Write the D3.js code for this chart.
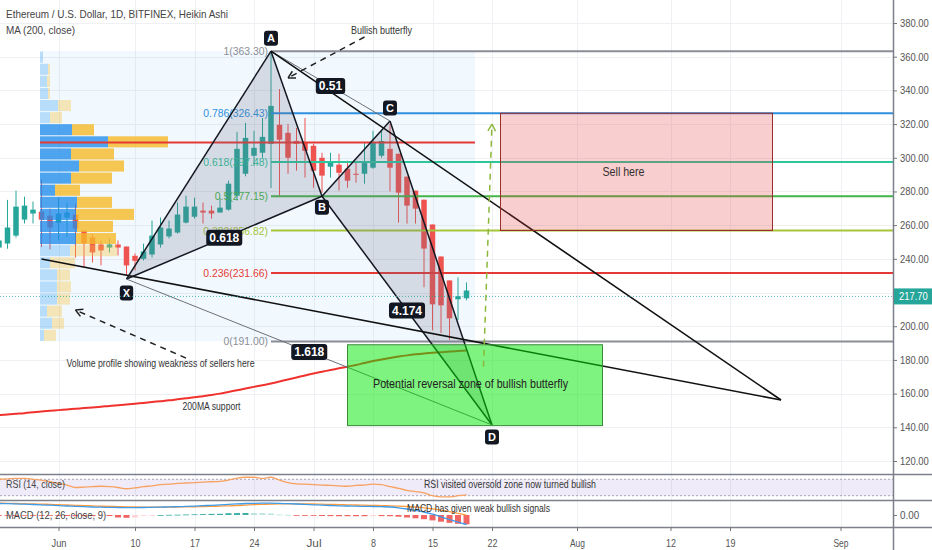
<!DOCTYPE html>
<html><head><meta charset="utf-8">
<script src="https://cdn.jsdelivr.net/npm/d3@7/dist/d3.min.js"></script>
<style>
html,body{margin:0;padding:0;background:#fff;overflow:hidden;}
svg{display:block;}
text{font-family:'Liberation Sans',Arial,sans-serif;}
</style></head><body>
<svg id="c" width="932" height="550"></svg>
<script>
// ---------------- DATA ----------------
const title = "Ethereum / U.S. Dollar, 1D, BITFINEX, Heikin Ashi";
const maTitle = "MA (200, close)";
const firstDay = "2019-05-25", lastDay = "2019-07-19";
// Heikin Ashi candles, May 25 .. Jul 19 2019
const haOpen  = [246.7,249.1,253.8,263.3,266.9,268.0,265.6,261.4,264.5,266.3,256.8,252.7,248.5,246.7,248.5,247.3,241.8,240.0,242.6,248.5,253.3,255.6,261.5,265.0,268.6,268.6,267.5,269.2,277.5,290.5,301.2,303.0,308.3,319.6,314.8,310.0,308.9,307.1,300.0,294.7,295.9,293.5,290.5,290.5,294.1,301.2,305.3,302.4,288.8,280.5,275.1,260.4,241.4,227.2,216.0,216.6];
const haHigh  = [255.0,275.0,280.5,276.9,274.0,287.0,269.8,276.3,273.4,272.8,256.8,255.0,250.9,252.1,250.9,247.3,243.2,249.0,262.7,264.5,262.7,273.4,277.5,276.3,273.4,271.6,276.3,286.4,315.4,320.7,316.0,323.6,363.3,340.8,320.1,317.7,323.6,308.3,303.0,303.0,302.4,298.2,298.2,308.9,316.0,316.0,320.0,302.4,288.8,280.5,275.1,260.4,241.4,227.2,229.0,226.0];
const haLow   = [243.8,246.0,252.6,261.0,261.0,247.0,245.6,250.9,252.7,240.8,234.9,237.9,236.1,243.8,242.0,230.2,233.1,239.0,240.8,246.7,252.1,255.0,261.0,263.9,261.0,263.9,267.5,268.6,274.6,289.0,295.0,300.0,282.0,277.5,290.5,292.3,288.2,282.2,279.3,288.2,280.5,282.2,285.2,284.6,293.5,300.0,280.0,261.5,260.9,260.9,223.1,197.6,195.9,192.0,203.6,215.4];
const haClose = [250.9,258.6,271.0,271.6,269.2,263.3,258.6,266.9,267.5,258.0,249.1,243.8,245.0,248.5,246.7,236.1,238.8,244.4,253.8,258.6,258.0,266.3,271.0,271.0,267.5,266.9,270.4,284.6,305.3,311.8,305.9,312.4,330.8,310.7,300.0,308.3,304.1,292.3,289.4,297.0,291.1,286.4,289.9,297.0,308.9,310.0,294.1,279.3,271.6,269.8,246.1,213.0,212.4,204.7,217.8,221.2];
const ma200   = [147.3,147.6,148.0,148.4,148.9,149.4,149.8,150.2,150.6,151.0,151.4,151.8,152.2,152.7,153.1,153.5,154.0,154.5,155.0,155.5,156.0,156.6,157.2,157.8,158.5,159.2,160.0,161.0,162.0,163.0,164.0,165.0,166.0,167.2,168.4,169.6,170.8,172.0,173.0,174.0,175.0,176.0,177.0,178.2,179.3,180.3,181.2,182.0,182.7,183.3,183.8,184.2,184.6,185.0,185.3,185.6];
const rsi     = [70,71,72,72,70,68,64,60,56,50,51,52,53,52,50,47,49,52,54,57,58,60,61,62,63,64,65,68,73,75,75,72,75,68,62,59,58,57,56,55,54,53,55,56,58,57,52,48,43,40,37,30,27,27,30,32];
const macdLine = [11.5,11.3,11.1,10.8,10.5,10.2,9.8,9.4,9.0,8.6,8.3,8.0,7.8,7.6,7.5,7.4,7.4,7.5,7.7,7.9,8.1,8.3,8.6,8.9,9.3,9.7,10.1,10.6,11.1,11.5,11.7,11.8,11.8,11.6,11.3,11.0,10.6,10.2,9.8,9.5,9.2,9.0,8.8,8.6,8.5,8.3,8.0,7.2,6.0,4.6,3.0,0.8,-1.8,-4.5,-7.2,-9.5];
const signalLine = [11.8,11.7,11.5,11.3,11.1,10.9,10.6,10.3,10.0,9.7,9.4,9.1,8.8,8.6,8.4,8.2,8.0,7.9,7.9,7.9,7.9,8.0,8.1,8.2,8.4,8.6,8.9,9.2,9.5,9.9,10.3,10.6,10.9,11.1,11.2,11.2,11.1,11.0,10.8,10.6,10.4,10.2,10.0,9.8,9.6,9.4,9.2,8.9,8.5,7.9,7.2,6.2,4.9,3.3,1.6,-0.2];
const macdHist = [-0.3,-0.4,-0.4,-0.5,-0.6,-0.7,-0.8,-0.9,-1.0,-1.1,-1.1,-1.1,-1.0,-1.0,-2.5,-2.8,-2.5,-0.4,-0.2,0,0.2,0.3,0.5,0.7,0.9,1.1,1.2,1.8,1.9,2.0,1.9,1.8,1.5,0.5,0.1,-0.2,-0.5,-0.8,-1.0,-1.1,-1.2,-1.2,-1.2,-1.2,-1.1,-1.1,-1.2,-1.7,-2.5,-3.3,-4.2,-5.4,-6.7,-7.8,-8.8,-9.3];
const lastPrice = 217.70;

// Volume profile (top row -> bottom row), range 191.00 .. 363.30
const vpRange = [191.00, 363.30];
const vpUp   = [3,8,7,8,18,10,32,68,31,39,31,15,37,36,37,36,30,10,17,17,17,7,12,4];
const vpDown = [0,2,3,2,13,12,22,60,43,45,41,25,35,58,36,40,47,25,13,14,13,15,12,12];
const vpValueArea = [0,0,0,0,0,0,1,1,1,1,1,1,1,1,1,1,0,0,0,0,0,0,0,0];
const vpStart = "2019-05-30", vpEnd = "2019-07-20";
const pocPrice = 309.0;

// Fibonacci retracement
const fibLevels = [0, 0.236, 0.382, 0.5, 0.618, 0.786, 1];
const fibPrices = [191.00, 231.66, 256.82, 277.15, 297.48, 326.43, 363.30];
const fibColors = ["#8a8d96","#e53935","#a5c63b","#43b548","#2ec49c","#2f8fdc","#8a8d96"];
const fibStart = "2019-06-26";

// XABCD pattern
const patLabels = ["X","A","B","C","D"];
const patDates  = ["2019-06-09","2019-06-26","2019-07-02","2019-07-10","2019-07-22"];
const patPrices = [228.0, 363.3, 277.15, 321.8, 141.4];
const ratioLabels = ["0.618","0.51","4.174","1.618"]; // XB, AC, BD, XD

// Trend lines
const trend1 = [["2019-05-30", 239.9], ["2019-08-25", 156.2]];
const trend2 = [["2019-06-26", 363.3], ["2019-08-25", 156.2]];

// Zones
const sellZone = {from:"2019-07-23", to:"2019-08-24", lo:256.82, hi:326.43, text:"Sell here", td:"2019-08-04", tp:291.6};
const prz = {from:"2019-07-05", to:"2019-08-04", lo:141.0, hi:189.0, text:"Potential reversal zone of bullish butterfly", td:"2019-07-08", tp:165.7};

// Annotations
const arrowButterfly = [["2019-07-07", 371.7], ["2019-06-28", 347.4]];
const arrowVP = [["2019-06-16", 181.1], ["2019-06-03", 209.6]];
const arrowTarget = [["2019-07-21", 176.0], ["2019-07-22", 320.0]];
const notes = [
  {d:"2019-07-09", p:375.8, t:"Bullish butterfly"},
  {d:"2019-06-13", p:178.0, t:"Volume profile showing weakness of sellers here"},
  {d:"2019-06-19", p:152.6, t:"200MA support"}
];
const rsiTitle = "RSI (14, close)", rsiNote = "RSI visited oversold zone now turned bullish";
const macdTitle = "MACD (12, 26, close, 9)", macdNote = "MACD has given weak bullish signals";

// Axes ticks
const priceTicks = [120,140,160,180,200,240,260,280,300,320,340,360,380];
const timeTickDates = ["2019-06-01","2019-06-10","2019-06-17","2019-06-24","2019-07-01","2019-07-08","2019-07-15","2019-07-22","2019-08-01","2019-08-12","2019-08-19","2019-09-01"];
const timeTickLabels = ["Jun","10","17","24","Jul","8","15","22","Aug","12","19","Sep"];

// ---------------- CHART ----------------
const pd = d3.utcParse("%Y-%m-%d");
const svg = d3.select("#c");
const W = 932, H = 550, PR = 893;
const PANE_P = [0, 474], PANE_R = [475, 500], PANE_M = [501, 527];

const x = d3.scaleUtc().domain([pd("2019-06-01"), pd("2019-09-01")]).range([58.5, 840.5]);
const y = d3.scaleLinear().domain([120, 380]).range([461, 23]);
const ry = d3.scaleLinear().domain([22, 78]).range([499, 476]);
const my = d3.scaleLinear().domain([-12, 14]).range([527, 501]);
const dates = d3.utcDay.range(pd(firstDay), d3.utcDay.offset(pd(lastDay), 1));

// horizontal squeeze to mimic the narrow chart font
let K = 1;
function squeeze(sel, target, perChar) {
  sel.each(function(){
    const n = this.getComputedTextLength();
    let t = target != null ? target : n * K;
    if (perChar) t = this.textContent.length * perChar;
    d3.select(this).attr("textLength", t).attr("lengthAdjust", "spacingAndGlyphs");
  });
  return sel;
}

svg.append("rect").attr("width", W).attr("height", H).attr("fill", "#fff");
const defs = svg.append("defs");
defs.append("clipPath").attr("id","cp").append("rect").attr("x",0).attr("y",0).attr("width",PR).attr("height",PANE_P[1]);
defs.append("clipPath").attr("id","cr").append("rect").attr("x",0).attr("y",PANE_R[0]).attr("width",PR).attr("height",PANE_R[1]-PANE_R[0]);
defs.append("clipPath").attr("id","cm").append("rect").attr("x",0).attr("y",PANE_M[0]).attr("width",PR).attr("height",PANE_M[1]-PANE_M[0]);

// header first, to calibrate squeeze factor
const hdr = svg.append("text").attr("x",6).attr("y",18).attr("font-size",11).attr("fill","#444").text(title);
K = 222 / hdr.node().getComputedTextLength();

// grid
const grid = svg.append("g");
timeTickDates.forEach(d => grid.append("line").attr("x1", Math.round(x(pd(d)))+0.5).attr("x2", Math.round(x(pd(d)))+0.5)
  .attr("y1", 0).attr("y2", PANE_M[1]).attr("stroke", "#eef0f4").attr("stroke-width", 1));
y.ticks(14).forEach(v => grid.append("line").attr("x1", 0).attr("x2", PR).attr("y1", Math.round(y(v))+0.5).attr("y2", Math.round(y(v))+0.5)
  .attr("stroke", "#eef0f4"));

const P = svg.append("g").attr("clip-path", "url(#cp)");

// volume profile background
const vpx0 = x(pd(vpStart)) - 1.5, vpx1 = x(pd(vpEnd));
P.append("rect").attr("x", vpx0).attr("y", y(vpRange[1])).attr("width", vpx1 - vpx0).attr("height", y(vpRange[0]) - y(vpRange[1]))
  .attr("fill", "rgba(33,150,243,0.06)");

// MA 200
P.append("path").datum(ma200).attr("fill","none").attr("stroke","#f0322e").attr("stroke-width",2)
  .attr("d", d3.line().x((d,i)=>x(dates[i])).y(d=>y(d)).curve(d3.curveMonotoneX));

// candles
const cw = 5.5;
dates.forEach((d,i) => {
  const up = haClose[i] >= haOpen[i];
  const col = up ? "#26a69a" : "#ef5350";
  const cx = x(d);
  P.append("line").attr("x1",cx).attr("x2",cx).attr("y1",y(haHigh[i])).attr("y2",y(haLow[i])).attr("stroke",col).attr("stroke-width",1);
  const top = y(Math.max(haOpen[i],haClose[i])), bot = y(Math.min(haOpen[i],haClose[i]));
  P.append("rect").attr("x",cx-cw/2).attr("y",top).attr("width",cw).attr("height",Math.max(1,bot-top)).attr("fill",col);
});

// volume profile bars
const nRows = vpUp.length;
const rowH = (vpRange[1]-vpRange[0]) / nRows;
const vw = d3.scaleLinear().domain([0, 130]).range([0, 130]);
vpUp.forEach((u,i) => {
  const pHi = vpRange[1] - i*rowH, pLo = pHi - rowH;
  const y0 = y(pHi)+0.5, h = y(pLo) - y(pHi) - 1;
  const va = vpValueArea[i];
  P.append("rect").attr("x", vpx0).attr("y", y0).attr("width", vw(u)).attr("height", h)
    .attr("fill", va ? "rgba(33,140,235,0.78)" : "rgba(33,150,243,0.28)");
  P.append("rect").attr("x", vpx0 + vw(u)).attr("y", y0).attr("width", vw(vpDown[i])).attr("height", h)
    .attr("fill", va ? "rgba(246,185,40,0.8)" : "rgba(246,195,60,0.36)");
});
// POC
P.append("line").attr("x1", vpx0).attr("x2", vpx1).attr("y1", y(pocPrice)).attr("y2", y(pocPrice)).attr("stroke","#e53935").attr("stroke-width",2);

// fib levels
const fx = x(pd(fibStart));
fibPrices.forEach((p,i) => {
  P.append("line").attr("x1", fx).attr("x2", PR).attr("y1", y(p)).attr("y2", y(p)).attr("stroke", fibColors[i]).attr("stroke-width", 2);
  squeeze(P.append("text").attr("x", fx-3).attr("y", y(p)+4).attr("text-anchor","end").attr("font-size", 11.5)
    .attr("fill", fibColors[i]).text(`${fibLevels[i]}(${p.toFixed(2)})`));
});

// pattern
const pts = patDates.map((d,i) => [x(pd(d)), y(patPrices[i])]);
const [X,A,B,C,D] = pts;
P.append("path").attr("d", d3.line()([X,A,B])+"Z").attr("fill","rgba(110,115,135,0.22)");
P.append("path").attr("d", d3.line()([B,C,D])+"Z").attr("fill","rgba(110,115,135,0.22)");
const blk = (a,b,w=1.5,c="#131722") => P.append("line").attr("x1",a[0]).attr("y1",a[1]).attr("x2",b[0]).attr("y2",b[1]).attr("stroke",c).attr("stroke-width",w);
blk(X,A); blk(A,B); blk(X,B); blk(B,C); blk(C,D); blk(B,D);
blk(A,C,1,"#6b6f7a"); blk(X,D,1,"#6b6f7a");

// trend lines
[trend1, trend2].forEach(t => {
  const a = [x(pd(t[0][0])), y(t[0][1])], b = [x(pd(t[1][0])), y(t[1][1])];
  blk(a,b,1.6,"#111");
});

// zones
const zone = (z, fill, stroke) => {
  const x0 = x(pd(z.from)), x1 = x(pd(z.to)), y0 = y(z.hi), y1 = y(z.lo);
  P.append("rect").attr("x",x0).attr("y",y0).attr("width",x1-x0).attr("height",y1-y0).attr("fill",fill).attr("stroke",stroke).attr("stroke-width",1);
};
zone(sellZone, "rgba(232,60,60,0.25)", "#9b2c2c");
squeeze(P.append("text").attr("x",x(pd(sellZone.td))).attr("y",y(sellZone.tp)+4).attr("font-size",12).attr("fill","#333").text(sellZone.text), 42);
zone(prz, "rgba(0,232,0,0.5)", "#3a8a3a");
squeeze(P.append("text").attr("x",x(pd(prz.td))).attr("y",y(prz.tp)+4).attr("font-size",12.5).attr("fill","#222").text(prz.text), 195);

// arrows
const arrow = (seg, color, w) => {
  const a = [x(pd(seg[0][0])), y(seg[0][1])], b = [x(pd(seg[1][0])), y(seg[1][1])];
  P.append("line").attr("x1",a[0]).attr("y1",a[1]).attr("x2",b[0]).attr("y2",b[1]).attr("stroke",color).attr("stroke-width",w).attr("stroke-dasharray","6,5");
  const ang = Math.atan2(a[1]-b[1], a[0]-b[0]), L = 8;
  [-0.5, 0.5].forEach(da => P.append("line").attr("x1",b[0]).attr("y1",b[1])
    .attr("x2", b[0]+L*Math.cos(ang+da)).attr("y2", b[1]+L*Math.sin(ang+da)).attr("stroke",color).attr("stroke-width",w));
};
arrow(arrowButterfly, "#222", 1.5);
arrow(arrowVP, "#222", 1.5);
arrow(arrowTarget, "#8bb83a", 1.5);

const noteW = [61, 188, 58];
notes.forEach((n,i) => squeeze(P.append("text").attr("x", x(pd(n.d))).attr("y", y(n.p)+4).attr("text-anchor","middle").attr("font-size",11).attr("fill","#333").text(n.t), noteW[i]));

// point labels
const tag = (cx, cy, t, fs, padX, h) => {
  const g = P.append("g");
  const tx = g.append("text").attr("x",cx).attr("y",cy+fs*0.36).attr("text-anchor","middle").attr("font-size",fs).attr("fill","#fff").attr("font-weight","bold").text(t);
  const w = tx.node().getComputedTextLength() + padX*2;
  g.insert("rect","text").attr("x",cx-w/2).attr("y",cy-h/2).attr("width",w).attr("height",h).attr("rx",3).attr("fill","#131722");
};
const offs = [14,-13,11,-13,12];
pts.forEach((p,i) => tag(p[0], p[1]+offs[i], patLabels[i], 11, 3, 15));
const mid = (a,b) => [(a[0]+b[0])/2, (a[1]+b[1])/2];
[[X,B],[A,C],[B,D],[X,D]].forEach((s,i) => { const m = mid(s[0],s[1]); tag(m[0], m[1], ratioLabels[i], 12, 3, 16); });

// current price line
P.append("line").attr("x1",0).attr("x2",PR).attr("y1",y(lastPrice)).attr("y2",y(lastPrice)).attr("stroke","#26a69a").attr("stroke-width",1).attr("stroke-dasharray","1,2").attr("opacity",0.8);

// header (second line)
squeeze(svg.append("text").attr("x",6).attr("y",34).attr("font-size",11).attr("fill","#444").text(maTitle));
hdr.attr("textLength", 222).attr("lengthAdjust","spacingAndGlyphs");
hdr.raise();

// ---------- RSI pane ----------
const R = svg.append("g").attr("clip-path","url(#cr)");
R.append("rect").attr("x",0).attr("y",ry(70)).attr("width",PR).attr("height",ry(30)-ry(70)).attr("fill","rgba(126,87,194,0.12)");
[70,30].forEach(v => R.append("line").attr("x1",0).attr("x2",PR).attr("y1",ry(v)).attr("y2",ry(v)).attr("stroke","#a9a4b5").attr("stroke-dasharray","2,2"));
R.append("path").datum(rsi).attr("fill","none").attr("stroke","#f7a261").attr("stroke-width",1.3)
  .attr("d", d3.line().x((d,i)=>x(dates[i])).y(d=>ry(d)).curve(d3.curveMonotoneX));
squeeze(svg.append("text").attr("x",6).attr("y",488).attr("font-size",11).attr("fill","#444").text(rsiTitle), 59);
squeeze(svg.append("text").attr("x",424).attr("y",488).attr("font-size",11).attr("fill","#333").text(rsiNote), 172);

// ---------- MACD pane ----------
const M = svg.append("g").attr("clip-path","url(#cm)");
macdHist.forEach((v,i) => {
  const prev = i>0 ? macdHist[i-1] : v;
  let col;
  if (v >= 0) col = v >= prev ? "#26a69a" : "#b2dfdb"; else col = v <= prev ? "#ef5350" : "#ffcdd2";
  const y0 = my(Math.max(0,v)), y1 = my(Math.min(0,v));
  M.append("rect").attr("x", x(dates[i])-3).attr("y", y0).attr("width", 6).attr("height", Math.max(0.8,y1-y0)).attr("fill", col).attr("opacity",0.9);
});
M.append("path").datum(signalLine).attr("fill","none").attr("stroke","#ff9a3c").attr("stroke-width",1.3)
  .attr("d", d3.line().x((d,i)=>x(dates[i])).y(d=>my(d)).curve(d3.curveMonotoneX));
M.append("path").datum(macdLine).attr("fill","none").attr("stroke","#3d9be9").attr("stroke-width",1.3)
  .attr("d", d3.line().x((d,i)=>x(dates[i])).y(d=>my(d)).curve(d3.curveMonotoneX));
squeeze(svg.append("text").attr("x",6).attr("y",519).attr("font-size",11).attr("fill","#444").text(macdTitle), 100);
squeeze(svg.append("text").attr("x",407).attr("y",512).attr("font-size",11).attr("fill","#333").text(macdNote), 143);

// ---------- separators & axes ----------
[PANE_P[1]+0.5, PANE_R[1]+0.5].forEach(v => svg.append("line").attr("x1",0).attr("x2",W).attr("y1",v).attr("y2",v).attr("stroke","#7d808a").attr("stroke-width",1.5));
svg.append("line").attr("x1",0).attr("x2",W).attr("y1",PANE_M[1]+0.5).attr("y2",PANE_M[1]+0.5).attr("stroke","#7d808a").attr("stroke-width",1.5);
svg.append("line").attr("x1",PR+0.5).attr("x2",PR+0.5).attr("y1",0).attr("y2",H).attr("stroke","#7d808a").attr("stroke-width",1.5);

const ya = svg.append("g").attr("transform",`translate(${PR},0)`)
  .call(d3.axisRight(y).tickValues(priceTicks).tickFormat(d3.format(".2f")).tickSize(4).tickPadding(3));
ya.select(".domain").remove();
ya.selectAll("line").attr("stroke","#777");
squeeze(ya.selectAll("text").attr("font-size",10.5).attr("fill","#555"), null, 4.8);

const ma = svg.append("g").attr("transform",`translate(${PR},0)`)
  .call(d3.axisRight(my).tickValues([0]).tickFormat(d3.format(".2f")).tickSize(4).tickPadding(3));
ma.select(".domain").remove();
ma.selectAll("line").attr("stroke","#777");
squeeze(ma.selectAll("text").attr("font-size",10.5).attr("fill","#555"), null, 4.8);

// last price tag
const ly = y(lastPrice);
svg.append("rect").attr("x",PR+1).attr("y",ly-8).attr("width",W-PR-1).attr("height",16).attr("fill","#26a69a");
squeeze(svg.append("text").attr("x",PR+6).attr("y",ly+4).attr("font-size",10.5).attr("fill","#fff").text(lastPrice.toFixed(2)), null, 4.8);

const xa = svg.append("g").attr("transform",`translate(0,${PANE_M[1]})`)
  .call(d3.axisBottom(x).tickValues(timeTickDates.map(pd)).tickFormat((d,i)=>timeTickLabels[i]).tickSize(4).tickPadding(8));
xa.select(".domain").remove();
xa.selectAll("line").attr("stroke","#777");
squeeze(xa.selectAll("text").attr("font-size",11).attr("fill","#555"), null, 5);
</script>
</body></html>
